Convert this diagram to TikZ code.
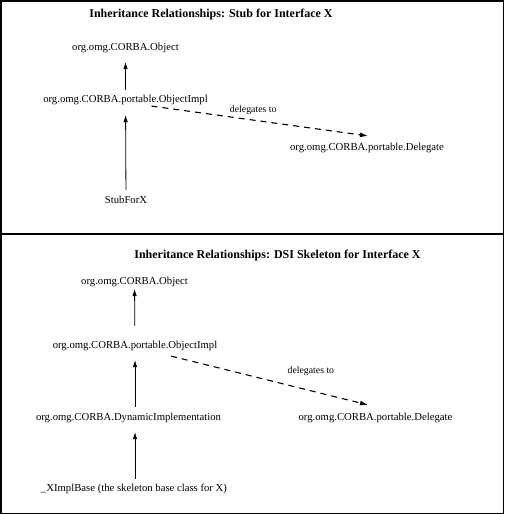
\documentclass[tikz,border=0pt]{standalone}
\usepackage{fontspec}
\setmainfont{Liberation Serif}
\usetikzlibrary{arrows.meta}
\tikzset{
  cls/.style={inner sep=0pt, font=\fontsize{10.7}{12}\selectfont},
  ttl/.style={inner sep=0pt, font=\fontsize{12}{14}\selectfont\bfseries},
  lbl/.style={inner sep=0pt, font=\fontsize{9.8}{11}\selectfont},
  isa/.style={line width=.8pt, -{Latex[length=7pt,width=4.5pt]}},
  dlg/.style={line width=1.1pt, dash pattern=on 6pt off 5pt, -{Latex[length=8pt,width=5pt]}}
}
\begin{document}
\begin{tikzpicture}[x=1pt, y=-1pt]
    \useasboundingbox (0,0) rectangle (504,514);
    \draw [line width=1.5pt] (0.75,0.75) rectangle (503.25,513.25);
    \draw [line width=2pt] (0,233.5) -- (504,233.5);

    \node [ttl] (T1) at (211,15) {Inheritance Relationships: Stub for Interface X};
    \node [cls] (O1) at (125.5,48) {org.omg.CORBA.Object};
    \node [cls] (I1) at (125.5,100) {org.omg.CORBA.portable.ObjectImpl};
    \node [cls] (S1) at (126,200) {StubForX};
    \node [cls] (D1) at (367,148) {org.omg.CORBA.portable.Delegate};
    \draw [isa, shorten <=5pt, shorten >=9pt] (I1) -- (O1);
    \draw [isa, shorten <=6pt, shorten >=10pt] (S1) -- (I1);
    \draw [dlg] ([xshift=26pt,yshift=-1pt]I1.south) -- ([xshift=1pt,yshift=7pt]D1.north)
      node [lbl, pos=.47, above=5pt] {delegates to};

    \node [ttl] (T2) at (277.5,256) {Inheritance Relationships: DSI Skeleton for Interface X};
    \node [cls] (O2) at (134.5,282) {org.omg.CORBA.Object};
    \node [cls] (I2) at (135,346) {org.omg.CORBA.portable.ObjectImpl};
    \node [cls] (Y2) at (128.5,418) {org.omg.CORBA.DynamicImplementation};
    \node [cls] (X2) at (134,489) {\_XImplBase (the skeleton base class for X)};
    \node [cls] (D2) at (375.5,418) {org.omg.CORBA.portable.Delegate};
    \draw [isa, shorten <=15pt, shorten >=2pt] (I2) -- (O2);
    \draw [isa, shorten <=6pt, shorten >=9pt] (Y2.north -| I2) -- (I2);
    \draw [isa, shorten <=5pt, shorten >=9pt] (X2.north -| I2) -- (Y2.south -| I2);
    \draw [dlg] ([xshift=36pt,yshift=-5pt]I2.south) -- ([xshift=-7.5pt,yshift=8pt]D2.north)
      node [lbl, pos=.71, above=15pt] {delegates to};
  \end{tikzpicture}
\end{document}
